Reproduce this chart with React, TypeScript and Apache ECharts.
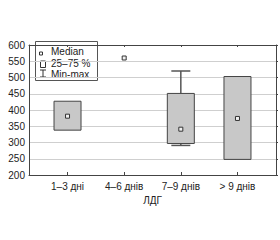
import React, { useEffect, useRef } from "react";
import * as echarts from "echarts";

const categories = ["1–3 дні", "4–6 днів", "7–9 днів", "> 9 днів"];
const positions = [1, 2, 3, 4];
const q1Values: (number | null)[] = [338, null, 297, 248];
const q3Values: (number | null)[] = [427, null, 451, 503];
const medianValues = [381, 560, 341, 374];
const minValues: (number | null)[] = [338, null, 291, 248];
const maxValues: (number | null)[] = [427, null, 520, 503];
const yTicks = [200, 250, 300, 350, 400, 450, 500, 550, 600];

const FONT = "Liberation Sans, Arial, sans-serif";

export default function App() {
  const ref = useRef<HTMLDivElement>(null);
  useEffect(() => {
    if (!ref.current) return;
    const chart = echarts.init(ref.current, undefined, { renderer: "svg" });
    const boxData = positions.map((p, i) => [
      p,
      q1Values[i] ?? "-",
      q3Values[i] ?? "-",
      medianValues[i],
      minValues[i] ?? "-",
      maxValues[i] ?? "-",
    ]);
    const option: any = {
      animation: false,
      backgroundColor: "#fff",
      grid: { left: 29, right: 4, top: 45, bottom: 65 },
      xAxis: [
        {
          type: "value",
          min: 0.32,
          max: 4.68,
          name: "ЛДГ",
          nameLocation: "middle",
          nameGap: 20,
          nameTextStyle: { fontFamily: FONT, fontSize: 10, color: "#222" },
          axisLine: { show: true, lineStyle: { color: "#444", width: 1 } },
          axisTick: { show: true, inside: true, length: 3, customValues: positions, lineStyle: { color: "#444" } },
          axisLabel: {
            customValues: positions,
            formatter: (v: number) => categories[Math.round(v) - 1] ?? "",
            fontFamily: FONT,
            fontSize: 10,
            color: "#222",
            margin: 6,
          },
          splitLine: { show: false },
        },
        {
          type: "value",
          position: "top",
          min: 0.32,
          max: 4.68,
          axisLine: { show: true, onZero: false, lineStyle: { color: "#444", width: 1 } },
          axisTick: { show: true, inside: true, length: 2, customValues: positions, lineStyle: { color: "#444" } },
          axisLabel: { show: false },
          splitLine: { show: false },
        },
      ],
      yAxis: [
        {
          type: "value",
          min: 200,
          max: 600,
          interval: 50,
          axisLine: { show: true, lineStyle: { color: "#444", width: 1 } },
          axisTick: { show: false },
          axisLabel: {
            customValues: yTicks,
            fontFamily: FONT,
            fontSize: 10,
            color: "#222",
            margin: 4,
          },
          splitLine: { show: true, lineStyle: { color: "#cfcfcf", width: 1 } },
        },
        {
          type: "value",
          position: "right",
          min: 200,
          max: 600,
          interval: 50,
          axisLine: { show: true, onZero: false, lineStyle: { color: "#444", width: 1 } },
          axisTick: { show: true, inside: false, length: 2, lineStyle: { color: "#444" } },
          axisLabel: { show: false },
          splitLine: { show: false },
        },
      ],
      series: [
        {
          type: "custom",
          xAxisIndex: 0,
          yAxisIndex: 0,
          data: boxData,
          encode: { x: 0, y: [1, 2, 3, 4, 5] },
          renderItem: (params: any, api: any) => {
            const x = api.value(0);
            const q1 = api.value(1);
            const q3 = api.value(2);
            const med = api.value(3);
            const mn = api.value(4);
            const mx = api.value(5);
            const children: any[] = [];
            const boxW = 27;
            const capW = 19;
            const isNum = (v: any) => typeof v === "number" && !isNaN(v);
            if (isNum(q1) && isNum(q3)) {
              const pTop = api.coord([x, q3]);
              const pBot = api.coord([x, q1]);
              if (isNum(mx) && mx > q3) {
                const pMax = api.coord([x, mx]);
                children.push({
                  type: "line",
                  shape: { x1: pTop[0], y1: pTop[1], x2: pMax[0], y2: pMax[1] },
                  style: { stroke: "#555", lineWidth: 1.5 },
                });
                children.push({
                  type: "line",
                  shape: { x1: pMax[0] - capW / 2, y1: pMax[1], x2: pMax[0] + capW / 2, y2: pMax[1] },
                  style: { stroke: "#555", lineWidth: 1.5 },
                });
              }
              if (isNum(mn) && mn < q1) {
                const pMin = api.coord([x, mn]);
                children.push({
                  type: "line",
                  shape: { x1: pBot[0], y1: pBot[1], x2: pMin[0], y2: pMin[1] },
                  style: { stroke: "#555", lineWidth: 1.5 },
                });
                children.push({
                  type: "line",
                  shape: { x1: pMin[0] - capW / 2, y1: pMin[1], x2: pMin[0] + capW / 2, y2: pMin[1] },
                  style: { stroke: "#555", lineWidth: 1.5 },
                });
              }
              children.push({
                type: "rect",
                shape: { x: pTop[0] - boxW / 2, y: pTop[1], width: boxW, height: pBot[1] - pTop[1] },
                style: { fill: "#c8c8c8", stroke: "#444", lineWidth: 1 },
              });
            }
            if (isNum(med)) {
              const pm = api.coord([x, med]);
              children.push({
                type: "rect",
                shape: { x: pm[0] - 2, y: pm[1] - 2, width: 4, height: 4 },
                style: { fill: "#f0f0f0", stroke: "#333", lineWidth: 1 },
              });
            }
            return { type: "group", children };
          },
          z: 5,
        },
      ],
      graphic: [
        {
          type: "group",
          left: 35,
          top: 41,
          z: 100,
          children: [
            {
              type: "rect",
              shape: { x: 0, y: 0, width: 62, height: 39 },
              style: { fill: "#fff", stroke: "#555", lineWidth: 1 },
            },
            {
              type: "rect",
              shape: { x: 4, y: 10.5, width: 3, height: 3 },
              style: { fill: "#fff", stroke: "#333", lineWidth: 1 },
            },
            {
              type: "text",
              x: 15.5,
              y: 10,
              style: { text: "Median", fontFamily: FONT, fontSize: 10, fill: "#222", verticalAlign: "middle" },
            },
            {
              type: "rect",
              shape: { x: 5, y: 19.5, width: 5, height: 6.5 },
              style: { fill: "#fff", stroke: "#333", lineWidth: 1 },
            },
            {
              type: "text",
              x: 15.5,
              y: 21.5,
              style: { text: "25–75 %", fontFamily: FONT, fontSize: 10, fill: "#222", verticalAlign: "middle" },
            },
            {
              type: "line",
              shape: { x1: 7.5, y1: 28.5, x2: 7.5, y2: 35.5 },
              style: { stroke: "#333", lineWidth: 1 },
            },
            {
              type: "line",
              shape: { x1: 4.5, y1: 28.5, x2: 10.5, y2: 28.5 },
              style: { stroke: "#333", lineWidth: 1 },
            },
            {
              type: "line",
              shape: { x1: 4.5, y1: 35.5, x2: 10.5, y2: 35.5 },
              style: { stroke: "#333", lineWidth: 1 },
            },
            {
              type: "text",
              x: 15.5,
              y: 33,
              style: { text: "Min-max", fontFamily: FONT, fontSize: 10, fill: "#222", verticalAlign: "middle" },
            },
          ],
        },
      ],
    };
    chart.setOption(option);
    return () => chart.dispose();
  }, []);
  return (
    <div
      ref={ref}
      style={{ position: "fixed", left: 0, top: 0, width: 280, height: 240, background: "#fff" }}
    />
  );
}
